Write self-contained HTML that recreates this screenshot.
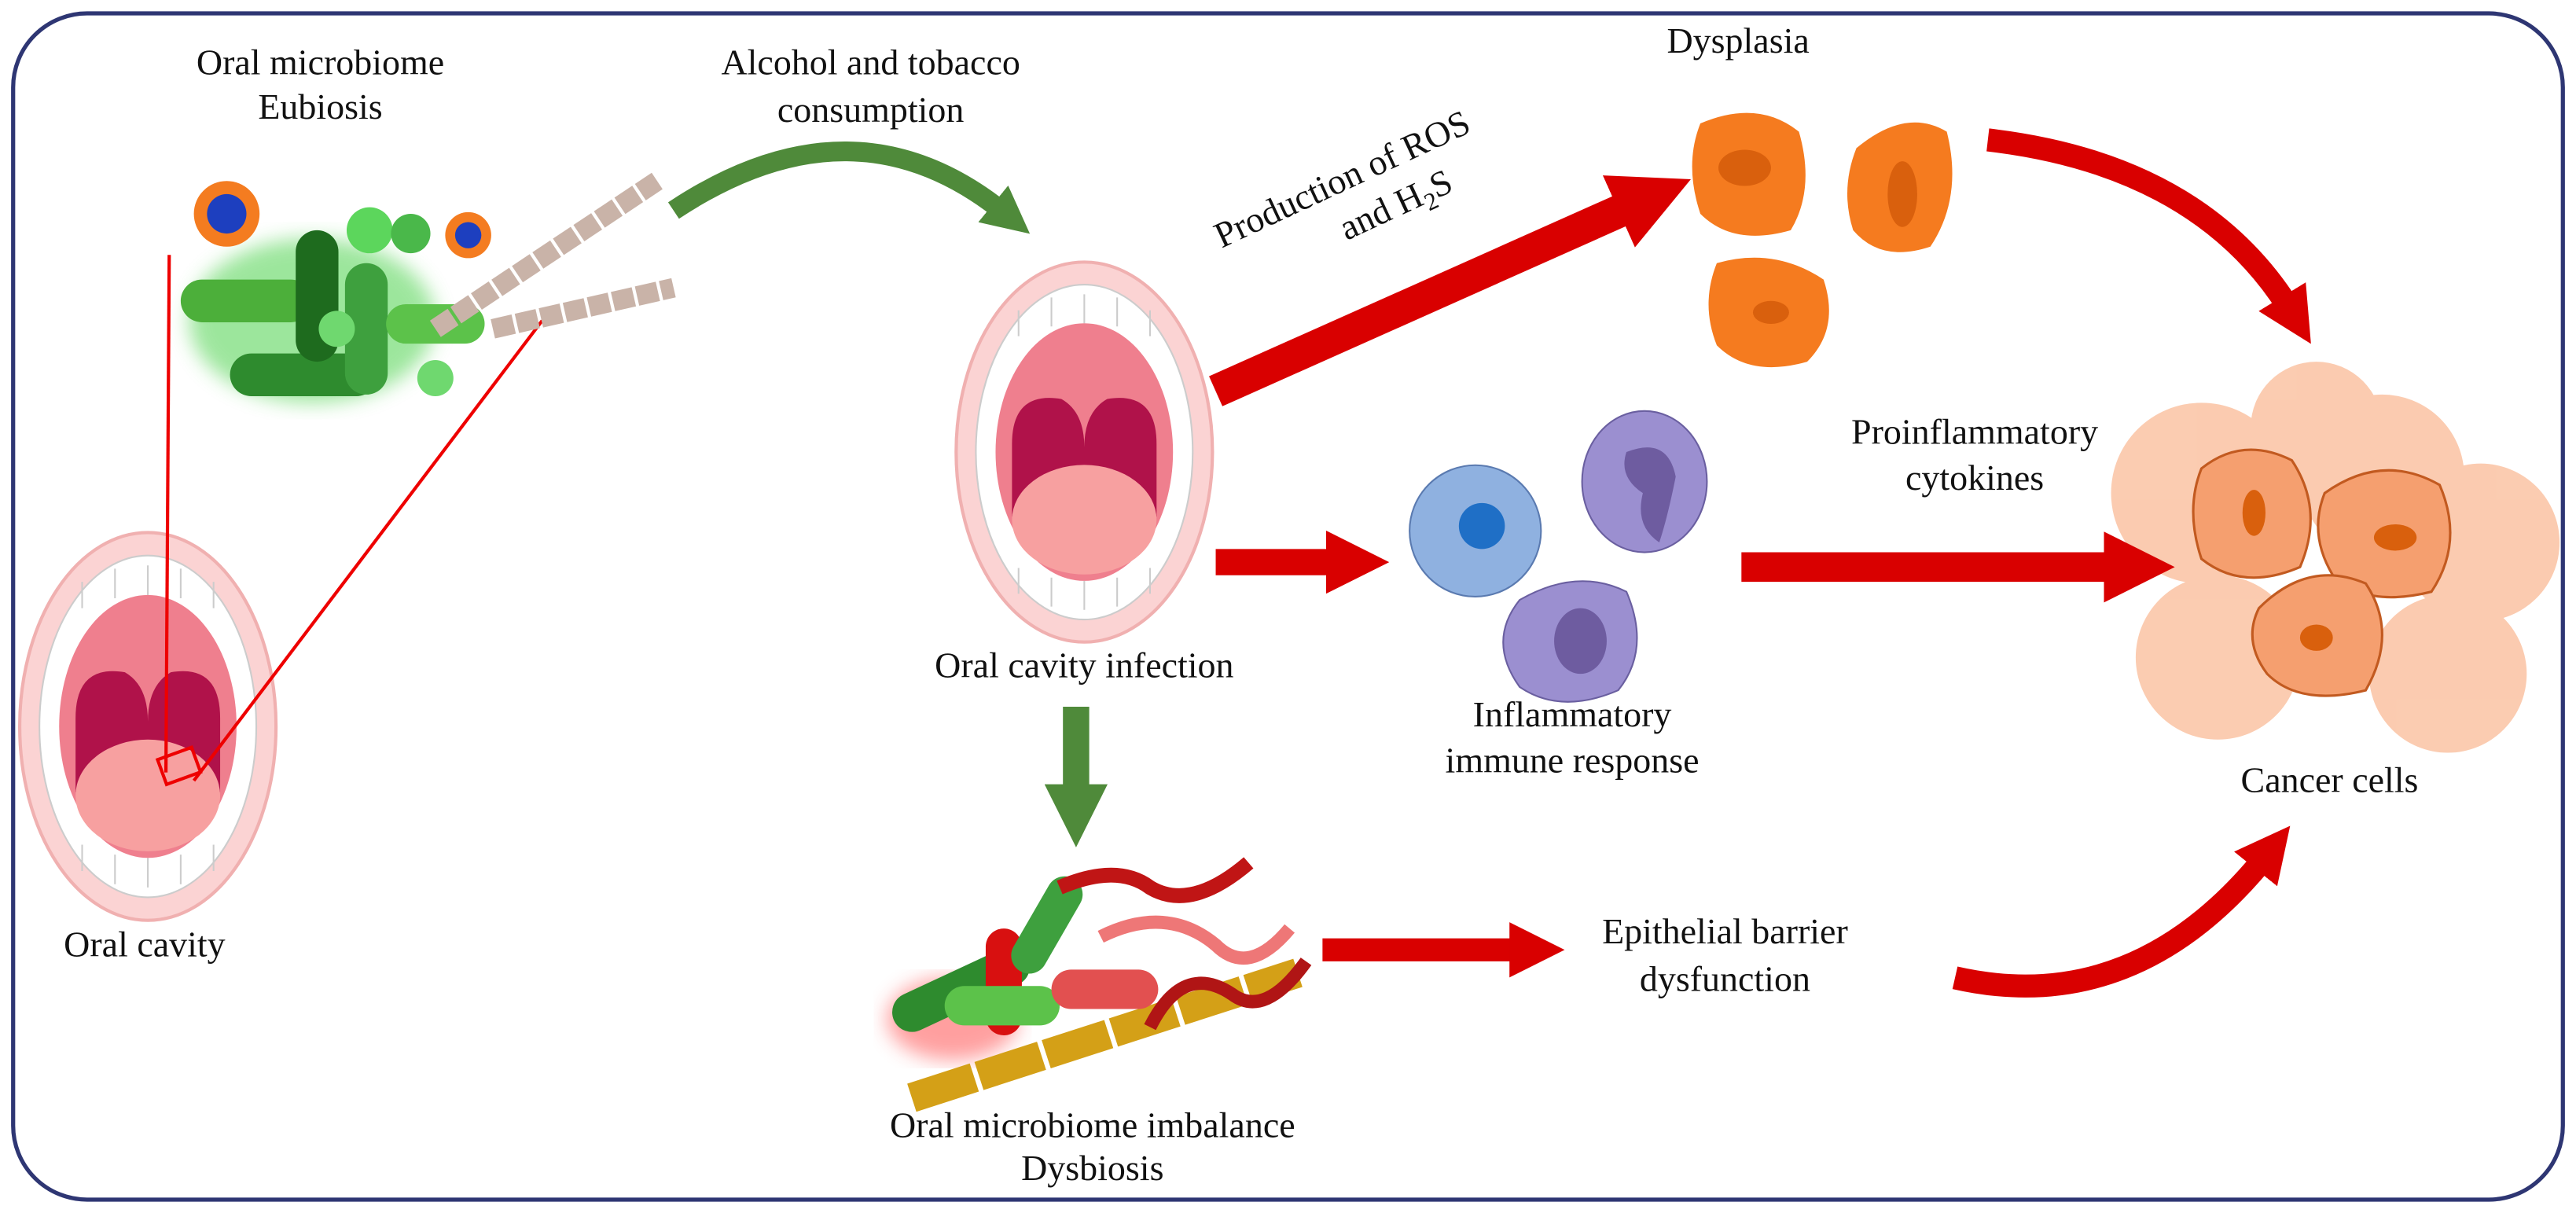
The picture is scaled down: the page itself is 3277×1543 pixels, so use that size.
<!DOCTYPE html>
<html><head><meta charset="utf-8"><style>
html,body{margin:0;padding:0;background:#fff;}
svg{display:block;}
text{font-family:"Liberation Serif",serif;font-size:22px;fill:#111;text-anchor:middle;}
</style></head><body>
<svg width="3277" height="1543" viewBox="0 0 1568 738" xmlns="http://www.w3.org/2000/svg">
<defs>
<filter id="glow"><feGaussianBlur stdDeviation="6"/></filter>
<marker id="rh" markerWidth="2.4" markerHeight="2.4" refX="0.8" refY="1.2" orient="auto" markerUnits="strokeWidth"><path d="M0,0 L2.4,1.2 L0,2.4 Z" fill="#d90000"/></marker>
<marker id="gh" markerWidth="2.4" markerHeight="2.4" refX="0.8" refY="1.2" orient="auto" markerUnits="strokeWidth"><path d="M0,0 L2.4,1.2 L0,2.4 Z" fill="#4f8a3a"/></marker>
<g id="mouth">
<ellipse cx="0" cy="0" rx="78" ry="118" fill="#fbd3d3" stroke="#f0b0b0" stroke-width="2"/>
<ellipse cx="0" cy="0" rx="66" ry="104" fill="#fff" stroke="#ccc"/>
<g stroke="#ccc" stroke-width="1"><path d="M-40,-88 L-40,-72 M-20,-96 L-20,-78 M0,-98 L0,-80 M20,-96 L20,-78 M40,-88 L40,-72 M-40,88 L-40,72 M-20,96 L-20,78 M0,98 L0,80 M20,96 L20,78 M40,88 L40,72"/></g>
<ellipse cx="0" cy="0" rx="54" ry="80" fill="#ef7f8e"/>
<path d="M-44,-5 Q-44,-38 -14,-33 Q0,-25 0,-3 Q0,-25 14,-33 Q44,-38 44,-5 L44,40 L-44,40Z" fill="#b0124a"/>
<ellipse cx="0" cy="42" rx="44" ry="34" fill="#f7a0a0"/>
</g>
</defs>
<rect x="8" y="8" width="1552" height="722" rx="45" fill="#fff" stroke="#2e3673" stroke-width="2.5"/>

<!-- texts -->
<text x="195" y="45">Oral microbiome</text>
<text x="195" y="72">Eubiosis</text>
<text x="530" y="45">Alcohol and tobacco</text>
<text x="530" y="74">consumption</text>
<text x="1058" y="32">Dysplasia</text>
<g transform="rotate(-25 830 125)"><text x="825" y="112">Production of ROS</text><text x="848" y="140">and H<tspan font-size="15" dy="5">2</tspan><tspan dy="-5">S</tspan></text></g>
<text x="1202" y="270">Proinflammatory</text>
<text x="1202" y="298">cytokines</text>
<text x="660" y="412">Oral cavity infection</text>
<text x="957" y="442">Inflammatory</text>
<text x="957" y="470">immune response</text>
<text x="1418" y="482">Cancer cells</text>
<text x="88" y="582">Oral cavity</text>
<text x="1050" y="574">Epithelial barrier</text>
<text x="1050" y="603">dysfunction</text>
<text x="665" y="692">Oral microbiome imbalance</text>
<text x="665" y="718">Dysbiosis</text>

<!-- mouths -->
<use href="#mouth" transform="translate(90,442)"/>
<use href="#mouth" transform="translate(660,275) scale(1.0 0.98)"/>
<line x1="103" y1="155" x2="101" y2="470" stroke="#e00" stroke-width="2"/>
<line x1="330" y1="195" x2="118" y2="475" stroke="#e00" stroke-width="2"/>
<rect x="98" y="458" width="22" height="16" fill="none" stroke="#e00" stroke-width="2" transform="rotate(-20 109 466)"/>

<!-- eubiosis bacteria -->
<g>
<ellipse cx="190" cy="195" rx="75" ry="50" fill="#5cd65c" filter="url(#glow)" opacity="0.6"/>
<rect x="110" y="170" width="80" height="26" rx="13" fill="#4caf3a"/>
<rect x="140" y="215" width="90" height="26" rx="13" fill="#2e8b2e"/>
<rect x="180" y="140" width="26" height="80" rx="13" fill="#1e6b1e"/>
<rect x="210" y="160" width="26" height="80" rx="13" fill="#3ea03e"/>
<rect x="235" y="185" width="60" height="24" rx="12" fill="#5cc24a"/>
<circle cx="225" cy="140" r="14" fill="#5cd65c"/><circle cx="250" cy="142" r="12" fill="#4ab84a"/>
<circle cx="205" cy="200" r="11" fill="#6fd86f"/><circle cx="265" cy="230" r="11" fill="#6fd86f"/>
<circle cx="138" cy="130" r="20" fill="#f47c20"/><circle cx="138" cy="130" r="12" fill="#1d3fbf"/>
<circle cx="285" cy="143" r="14" fill="#f47c20"/><circle cx="285" cy="143" r="8" fill="#1d3fbf"/>
<path d="M265,200 L400,110 M300,200 L410,175" stroke="#c9b3a8" stroke-width="12" stroke-dasharray="13 2"/>
</g>

<!-- dysbiosis -->
<g>
<ellipse cx="580" cy="620" rx="40" ry="25" fill="#ff6060" filter="url(#glow)" opacity="0.6"/>
<path d="M555,668 L790,592" stroke="#d4a017" stroke-width="18" stroke-dasharray="40 3"/>
<rect x="540" y="590" width="90" height="24" rx="12" fill="#2e8b2e" transform="rotate(-25 585 602)"/>
<rect x="600" y="565" width="22" height="65" rx="11" fill="#d81010"/>
<rect x="575" y="600" width="70" height="24" rx="12" fill="#5cc24a"/>
<rect x="625" y="530" width="22" height="65" rx="11" fill="#3ea03e" transform="rotate(30 636 565)"/>
<rect x="640" y="590" width="65" height="24" rx="12" fill="#e25050"/>
<path d="M645,540 Q680,525 700,540 Q725,555 760,525" stroke="#c01515" stroke-width="9" fill="none"/>
<path d="M670,570 Q710,550 740,575 Q760,595 785,565" stroke="#e77" stroke-width="8" fill="none"/>
<path d="M700,625 Q720,585 750,605 Q770,620 795,585" stroke="#b01515" stroke-width="8" fill="none"/>
</g>

<!-- dysplasia cells -->
<g fill="#f57b1f"><path d="M1035,75 Q1070,60 1095,80 Q1105,115 1090,140 Q1055,150 1035,130 Q1025,100 1035,75Z"/>
<path d="M1130,90 Q1160,65 1185,80 Q1195,120 1175,150 Q1145,160 1128,140 Q1120,115 1130,90Z"/>
<path d="M1045,160 Q1080,150 1110,170 Q1120,200 1100,220 Q1065,230 1045,210 Q1035,185 1045,160Z"/></g>
<g fill="#d9600d"><ellipse cx="1062" cy="102" rx="16" ry="11"/><ellipse cx="1158" cy="118" rx="9" ry="20"/><ellipse cx="1078" cy="190" rx="11" ry="7"/></g>

<!-- immune cells -->
<circle cx="898" cy="323" r="40" fill="#8fb1e0" stroke="#5a7ab0"/><circle cx="902" cy="320" r="14" fill="#1f6fc6"/>
<ellipse cx="1001" cy="293" rx="38" ry="43" fill="#9b8fd0" stroke="#6a5fa0"/><path d="M990,275 Q1015,265 1020,290 Q1015,315 1010,330 Q995,320 1000,300 Q985,290 990,275Z" fill="#6e5ca0"/>
<path d="M925,365 Q960,345 990,360 Q1005,395 985,420 Q950,435 925,418 Q905,390 925,365Z" fill="#9b8fd0" stroke="#6a5fa0"/><ellipse cx="962" cy="390" rx="16" ry="20" fill="#6e5ca0"/>

<!-- cancer cells -->
<g fill="#fbc6a8" opacity="0.9">
<circle cx="1340" cy="300" r="55"/><circle cx="1450" cy="290" r="50"/><circle cx="1510" cy="330" r="48"/><circle cx="1350" cy="400" r="50"/><circle cx="1490" cy="410" r="48"/><circle cx="1410" cy="260" r="40"/></g>
<g fill="#f59f6f" stroke="#c25a20" stroke-width="1.5">
<path d="M1340,285 Q1365,265 1395,280 Q1415,310 1400,345 Q1365,360 1340,340 Q1330,310 1340,285Z"/>
<path d="M1415,300 Q1450,275 1485,295 Q1500,330 1480,360 Q1440,370 1420,350 Q1405,325 1415,300Z"/>
<path d="M1375,370 Q1405,340 1440,355 Q1460,385 1440,420 Q1400,430 1380,410 Q1365,390 1375,370Z"/></g>
<g fill="#d9600d"><ellipse cx="1372" cy="312" rx="7" ry="14"/><ellipse cx="1458" cy="327" rx="13" ry="8"/><ellipse cx="1410" cy="388" rx="10" ry="8"/></g>

<!-- arrows -->
<path d="M410,128 Q520,55 612,130" stroke="#4f8a3a" stroke-width="12" fill="none" marker-end="url(#gh)"/>
<line x1="740" y1="238" x2="1000" y2="122" stroke="#d90000" stroke-width="20" marker-end="url(#rh)"/>
<path d="M1210,85 Q1340,100 1395,190" stroke="#d90000" stroke-width="14" fill="none" marker-end="url(#rh)"/>
<line x1="740" y1="342" x2="820" y2="342" stroke="#d90000" stroke-width="16" marker-end="url(#rh)"/>
<line x1="1060" y1="345" x2="1295" y2="345" stroke="#d90000" stroke-width="18" marker-end="url(#rh)"/>
<line x1="655" y1="430" x2="655" y2="490" stroke="#4f8a3a" stroke-width="16" marker-end="url(#gh)"/>
<line x1="805" y1="578" x2="930" y2="578" stroke="#d90000" stroke-width="14" marker-end="url(#rh)"/>
<path d="M1190,595 Q1300,620 1380,520" stroke="#d90000" stroke-width="14" fill="none" marker-end="url(#rh)"/>
</svg>
</body></html>
